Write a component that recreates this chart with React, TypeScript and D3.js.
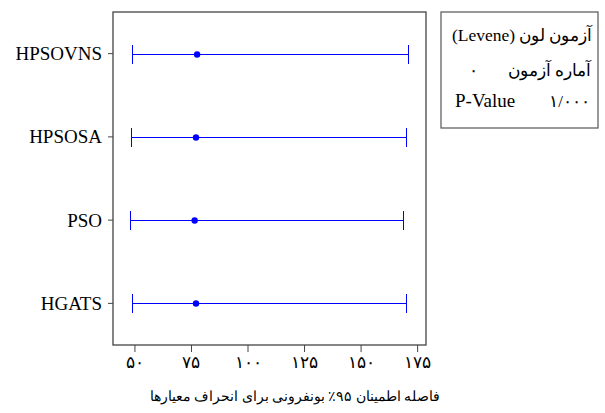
import React from "react";
import * as d3 from "d3";

const categories = ["HPSOVNS", "HPSOSA", "PSO", "HGATS"];
const lowerValues = [48.7, 48.4, 47.9, 48.5];
const centerValues = [77.5, 77.0, 76.4, 77.0];
const upperValues = [170.8, 169.8, 168.6, 169.8];
const xTicks = [50, 75, 100, 125, 150, 175];
const xTickLabels = ["۵۰", "۷۵", "۱۰۰", "۱۲۵", "۱۵۰", "۱۷۵"];
const xAxisTitle = "فاصله اطمینان ۹۵٪ بونفرونی برای انحراف معیارها";
const legendTitleFa = "آزمون لون";
const legendTitleEn = "(Levene)";
const legendStatLabel = "آماره آزمون";
const legendStatValue = "۰";
const legendPLabel = "P-Value";
const legendPValue = "۱/۰۰۰";

const W = 605;
const H = 413;
const box = { left: 113, right: 426, top: 12, bottom: 345 };
const serif = "Liberation Serif";

export default function App() {
  const x = d3.scaleLinear().domain([40.3, 178.7]).range([box.left, box.right]);
  const y = d3.scalePoint<string>().domain(categories).range([box.top, box.bottom]).padding(0.5);
  const blue = "#0000ff";
  const capH = 9;
  return (
    <svg width={W} height={H} style={{ position: "absolute", left: 0, top: 0, background: "#fff" }}>
      <rect x={0} y={0} width={W} height={H} fill="#fff" />
      <rect x={box.left} y={box.top} width={box.right - box.left} height={box.bottom - box.top}
        fill="none" stroke="#444" strokeWidth={1.3} />
      {categories.map((c) => (
        <g key={"ya-" + c}>
          <line x1={box.left - 5} x2={box.left} y1={y(c)!} y2={y(c)!} stroke="#444" strokeWidth={1} />
          <text x={box.left - 11} y={y(c)!} dy="0.34em" textAnchor="end" fontFamily={serif} fontSize={19} fill="#000">{c}</text>
        </g>
      ))}
      {xTicks.map((t, i) => (
        <g key={"xa-" + t}>
          <line x1={x(t)} x2={x(t)} y1={box.bottom} y2={box.bottom + 7} stroke="#444" strokeWidth={1} />
          <text x={x(t)} y={box.bottom + 23} textAnchor="middle" fontFamily={serif} fontSize={17} fill="#000">{xTickLabels[i]}</text>
        </g>
      ))}
      <text x={295} y={401} textAnchor="middle" direction="rtl" fontFamily={serif} fontSize={13.5} fill="#000">{xAxisTitle}</text>
      {categories.map((c, i) => {
        const yy = Math.round(y(c)!);
        const x0 = Math.round(x(lowerValues[i]));
        const x1 = Math.round(x(upperValues[i]));
        return (
          <g key={"iv-" + c} shapeRendering="crispEdges">
            <rect x={x0} y={yy} width={x1 - x0} height={1} fill={blue} />
            <rect x={x0} y={yy - capH} width={1} height={2 * capH + 1} fill={blue} />
            <rect x={x1} y={yy - capH} width={1} height={2 * capH + 1} fill={blue} />
            <circle cx={x(centerValues[i])} cy={yy + 0.5} r={3.2} fill={blue} shapeRendering="auto" />
          </g>
        );
      })}
      <rect x={441} y={12} width={157} height={116} fill="none" stroke="#555" strokeWidth={1.2} />
      <text x={592} y={41} textAnchor="end" fontFamily={serif} fontSize={17} fill="#000">{legendTitleFa}</text>
      <text x={452} y={41} textAnchor="start" fontFamily={serif} fontSize={17.5} fill="#000">{legendTitleEn}</text>
      <text x={591} y={76} textAnchor="end" fontFamily={serif} fontSize={17} fill="#000">{legendStatLabel}</text>
      <text x={473} y={76} textAnchor="middle" fontFamily={serif} fontSize={17} fill="#000">{legendStatValue}</text>
      <text x={455} y={107} textAnchor="start" fontFamily={serif} fontSize={19} fill="#000">{legendPLabel}</text>
      <text x={590} y={107} textAnchor="end" fontFamily={serif} fontSize={17} fill="#000">{legendPValue}</text>
    </svg>
  );
}
